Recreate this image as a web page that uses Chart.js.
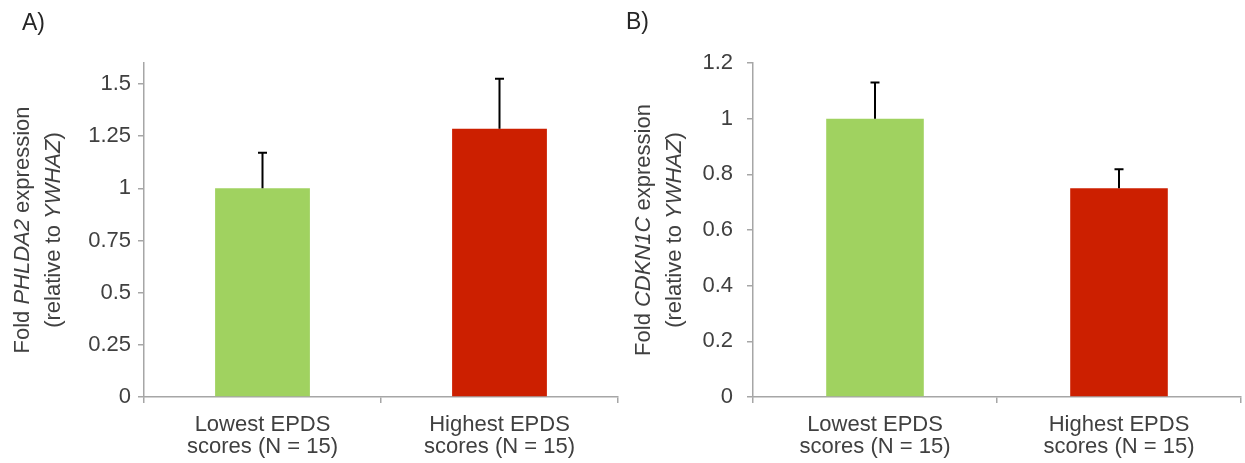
<!DOCTYPE html>
<html>
<head>
<meta charset="utf-8">
<script src="https://cdn.jsdelivr.net/npm/chart.js@4/dist/chart.umd.min.js"></script>
<style>
  body { margin: 0; background: #fff; width: 1245px; height: 463px; position: relative; overflow: hidden; font-family: 'Liberation Sans', Arial, sans-serif; }
  .panel { position: absolute; top: 0; height: 463px; }
  .tag { position: absolute; font-size: 23px; color: #262626; }
</style>
</head>
<body>
<div class="panel" style="left:0;width:625px"><canvas id="chartA"></canvas></div>
<div class="panel" style="left:625px;width:620px"><canvas id="chartB"></canvas></div>
<div class="tag" style="left:22px;top:9px">A)</div>
<div class="tag" style="left:626px;top:8px">B)</div>
<script>
// data
const categories = [['Lowest EPDS', 'scores (N = 15)'], ['Highest EPDS', 'scores (N = 15)']];
const barColors = ['#A0D260', '#CC1F00'];

const valuesA = [1.0, 1.285];
const errorsA = [0.17, 0.24];
const ticksA = [0, 0.25, 0.5, 0.75, 1, 1.25, 1.5];
const tickLabelsA = ['0', '0.25', '0.5', '0.75', '1', '1.25', '1.5'];

const valuesB = [1.0, 0.75];
const errorsB = [0.13, 0.068];
const ticksB = [0, 0.2, 0.4, 0.6, 0.8, 1, 1.2];
const tickLabelsB = ['0', '0.2', '0.4', '0.6', '0.8', '1', '1.2'];

const FONT = "'Liberation Sans', Arial, sans-serif";
const TEXT = '#404040';
const AXIS = '#A6A6A6';

// upper error bars, drawn from the y scale
const errorBars = {
  id: 'errorBars',
  afterDatasetsDraw(chart, args, opts) {
    const ctx = chart.ctx;
    const y = chart.scales.y;
    const meta = chart.getDatasetMeta(0);
    ctx.save();
    ctx.strokeStyle = '#000';
    ctx.lineWidth = 2;
    meta.data.forEach((bar, i) => {
      const v = chart.data.datasets[0].data[i];
      const top = y.getPixelForValue(v + opts.errors[i]);
      ctx.beginPath();
      ctx.moveTo(bar.x, bar.y);
      ctx.lineTo(bar.x, top);
      ctx.moveTo(bar.x - 4.5, top);
      ctx.lineTo(bar.x + 4.5, top);
      ctx.stroke();
    });
    ctx.restore();
  }
};

// rotated two-line y title with italic gene names
const yTitle = {
  id: 'yTitle',
  afterDraw(chart, args, opts) {
    const ctx = chart.ctx;
    const cy = (chart.chartArea.top + chart.chartArea.bottom) / 2;
    ctx.save();
    ctx.fillStyle = TEXT;
    ctx.textBaseline = 'middle';
    ctx.textAlign = 'left';
    opts.lines.forEach((parts, li) => {
      let total = 0;
      parts.forEach(p => {
        ctx.font = (p[1] ? 'italic ' : '') + opts.size + 'px ' + FONT;
        total += ctx.measureText(p[0]).width;
      });
      ctx.save();
      ctx.translate(opts.x[li], cy);
      ctx.rotate(-Math.PI / 2);
      let x = -total / 2;
      parts.forEach(p => {
        ctx.font = (p[1] ? 'italic ' : '') + opts.size + 'px ' + FONT;
        ctx.fillText(p[0], x, 0);
        x += ctx.measureText(p[0]).width;
      });
      ctx.restore();
    });
    ctx.restore();
  }
};

function makeChart(id, values, errors, ticks, tickLabels, max, yWidth, padRight, labelPad, titleLines, titleX) {
  return new Chart(document.getElementById(id), {
    type: 'bar',
    data: {
      labels: categories,
      datasets: [{
        data: values,
        backgroundColor: barColors,
        borderWidth: 0,
        categoryPercentage: 1,
        barPercentage: 0.4
      }]
    },
    options: {
      responsive: true,
      maintainAspectRatio: false,
      animation: false,
      layout: { padding: { top: 63, right: padRight, left: 0, bottom: 0 } },
      plugins: {
        legend: { display: false },
        tooltip: { enabled: false },
        errorBars: { errors: errors },
        yTitle: { lines: titleLines, x: titleX, size: 22 }
      },
      scales: {
        x: {
          grid: { drawOnChartArea: false, tickLength: 6, color: AXIS, lineWidth: 1.5 },
          border: { color: AXIS, width: 1.5 },
          ticks: { color: TEXT, font: { family: FONT, size: 22, lineHeight: 1.0 }, padding: 11, maxRotation: 0 },
          afterFit(s) { s.height = 66; }
        },
        y: {
          min: 0,
          max: max,
          grid: { drawOnChartArea: false, tickLength: 6, color: AXIS, lineWidth: 1.5 },
          border: { color: AXIS, width: 1.5 },
          afterBuildTicks(s) { s.ticks = ticks.map(v => ({ value: v })); },
          ticks: {
            color: TEXT,
            font: { family: FONT, size: 22 },
            padding: labelPad,
            callback: (v, i) => tickLabels[i]
          },
          afterFit(s) { s.width = yWidth; }
        }
      }
    },
    plugins: [errorBars, yTitle]
  });
}

makeChart('chartA', valuesA, errorsA, ticksA, tickLabelsA, 1.6, 144, 7, 7,
  [[['Fold ', false], ['PHLDA2', true], [' expression', false]],
   [['(relative to ', false], ['YWHAZ', true], [')', false]]],
  [23, 54]);

makeChart('chartB', valuesB, errorsB, ticksB, tickLabelsB, 1.2, 128, 4, 14,
  [[['Fold ', false], ['CDKN1C', true], [' expression', false]],
   [['(relative to ', false], ['YWHAZ', true], [')', false]]],
  [19, 50]);
</script>
</body>
</html>
